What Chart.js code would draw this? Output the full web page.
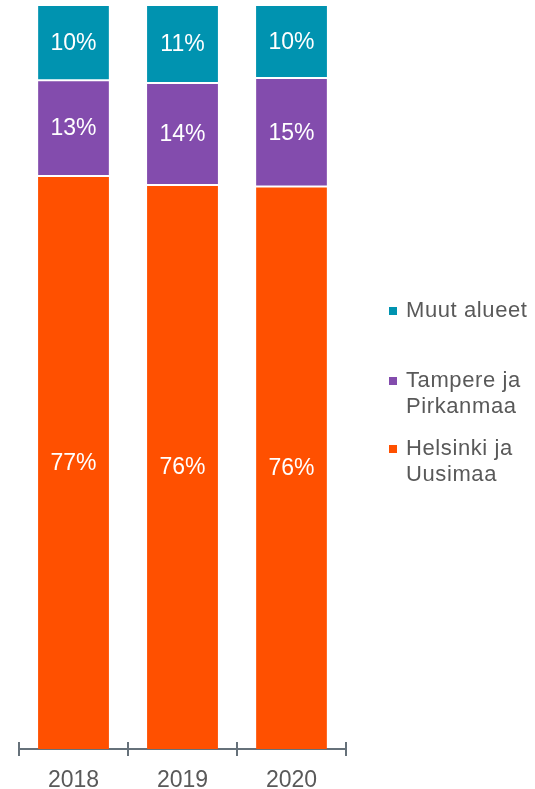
<!DOCTYPE html>
<html>
<head>
<meta charset="utf-8">
<script src="https://cdn.jsdelivr.net/npm/chart.js@4/dist/chart.umd.min.js"></script>
<style>
  html, body { margin: 0; padding: 0; background: #fff; overflow: hidden; }
  #wrap { position: relative; width: 535px; height: 789px; }
  #legend { position: absolute; left: 389px; top: 297px; font-family: "Liberation Sans", Arial, sans-serif; font-size: 22px; line-height: 26px; letter-spacing: 0.6px; color: #595959; }
  .item { display: flex; align-items: flex-start; }
  .item .box { width: 8px; height: 8px; margin: 10px 9px 0 0; flex: none; }
  .item:nth-child(2) { margin-top: 44px; }
  .item:nth-child(3) { margin-top: 16px; }
</style>
</head>
<body>
<div id="wrap">
  <canvas id="chart" width="535" height="789"></canvas>
  <div id="legend"></div>
</div>
<script>
const years = ['2018', '2019', '2020'];
const helsinki = [77.0, 75.8, 75.6];
const tampere = [12.9, 13.7, 14.6];
const muut = [10.1, 10.5, 9.8];
const seriesNames = ['Helsinki ja\nUusimaa', 'Tampere ja\nPirkanmaa', 'Muut alueet'];
const seriesColors = ['#ff5000', '#834cad', '#0093b0'];

const font = '"Liberation Sans", Arial, sans-serif';

// white percentage labels centred on each segment
const segmentLabels = {
  id: 'segmentLabels',
  afterDatasetsDraw(chart) {
    const ctx = chart.ctx;
    ctx.save();
    ctx.fillStyle = '#ffffff';
    ctx.font = '23px ' + font;
    ctx.textAlign = 'center';
    ctx.textBaseline = 'middle';
    chart.data.datasets.forEach((ds, i) => {
      chart.getDatasetMeta(i).data.forEach((bar, j) => {
        const p = bar.getProps(['x', 'y', 'base'], true);
        ctx.fillText(Math.round(ds.data[j]) + '%', p.x, (p.y + p.base) / 2 + 1);
      });
    });
    ctx.restore();
  }
};

// category separator ticks crossing the x axis line
const axisTicks = {
  id: 'axisTicks',
  afterDraw(chart) {
    const x = chart.scales.x;
    const ctx = chart.ctx;
    const y0 = chart.chartArea.bottom;
    ctx.save();
    ctx.strokeStyle = '#66717a';
    ctx.lineWidth = 2;
    for (let i = 0; i <= years.length; i++) {
      const px = Math.round(x.getPixelForValue(i - 0.5));
      ctx.beginPath();
      ctx.moveTo(px, y0 - 7);
      ctx.lineTo(px, y0 + 7);
      ctx.stroke();
    }
    ctx.restore();
  }
};

const datasets = [helsinki, tampere, muut].map((d, i) => ({
  label: seriesNames[i],
  data: d,
  backgroundColor: seriesColors[i],
  borderColor: '#ffffff',
  borderWidth: { top: 1, bottom: i === 0 ? 0 : 1 },
  borderSkipped: false,
  barPercentage: 0.65,
  categoryPercentage: 1
}));

new Chart(document.getElementById('chart'), {
  type: 'bar',
  data: { labels: years, datasets: datasets },
  options: {
    responsive: false,
    animation: false,
    layout: { padding: { left: 19, right: 189, top: 5, bottom: 0 } },
    plugins: { legend: { display: false }, tooltip: { enabled: false } },
    scales: {
      x: {
        stacked: true,
        grid: { display: false, drawTicks: false },
        border: { display: true, color: '#66717a', width: 2 },
        ticks: { color: '#595959', font: { family: font, size: 23 }, padding: 18 },
        afterFit(scale) { scale.height = 40; }
      },
      y: { stacked: true, display: false, min: 0, max: 100 }
    }
  },
  plugins: [segmentLabels, axisTicks]
});

const legend = document.getElementById('legend');
for (let i = seriesNames.length - 1; i >= 0; i--) {
  const item = document.createElement('div');
  item.className = 'item';
  const box = document.createElement('span');
  box.className = 'box';
  box.style.background = seriesColors[i];
  const text = document.createElement('span');
  text.innerHTML = seriesNames[i].replace('\n', '<br>');
  item.appendChild(box);
  item.appendChild(text);
  legend.appendChild(item);
}
</script>
</body>
</html>
